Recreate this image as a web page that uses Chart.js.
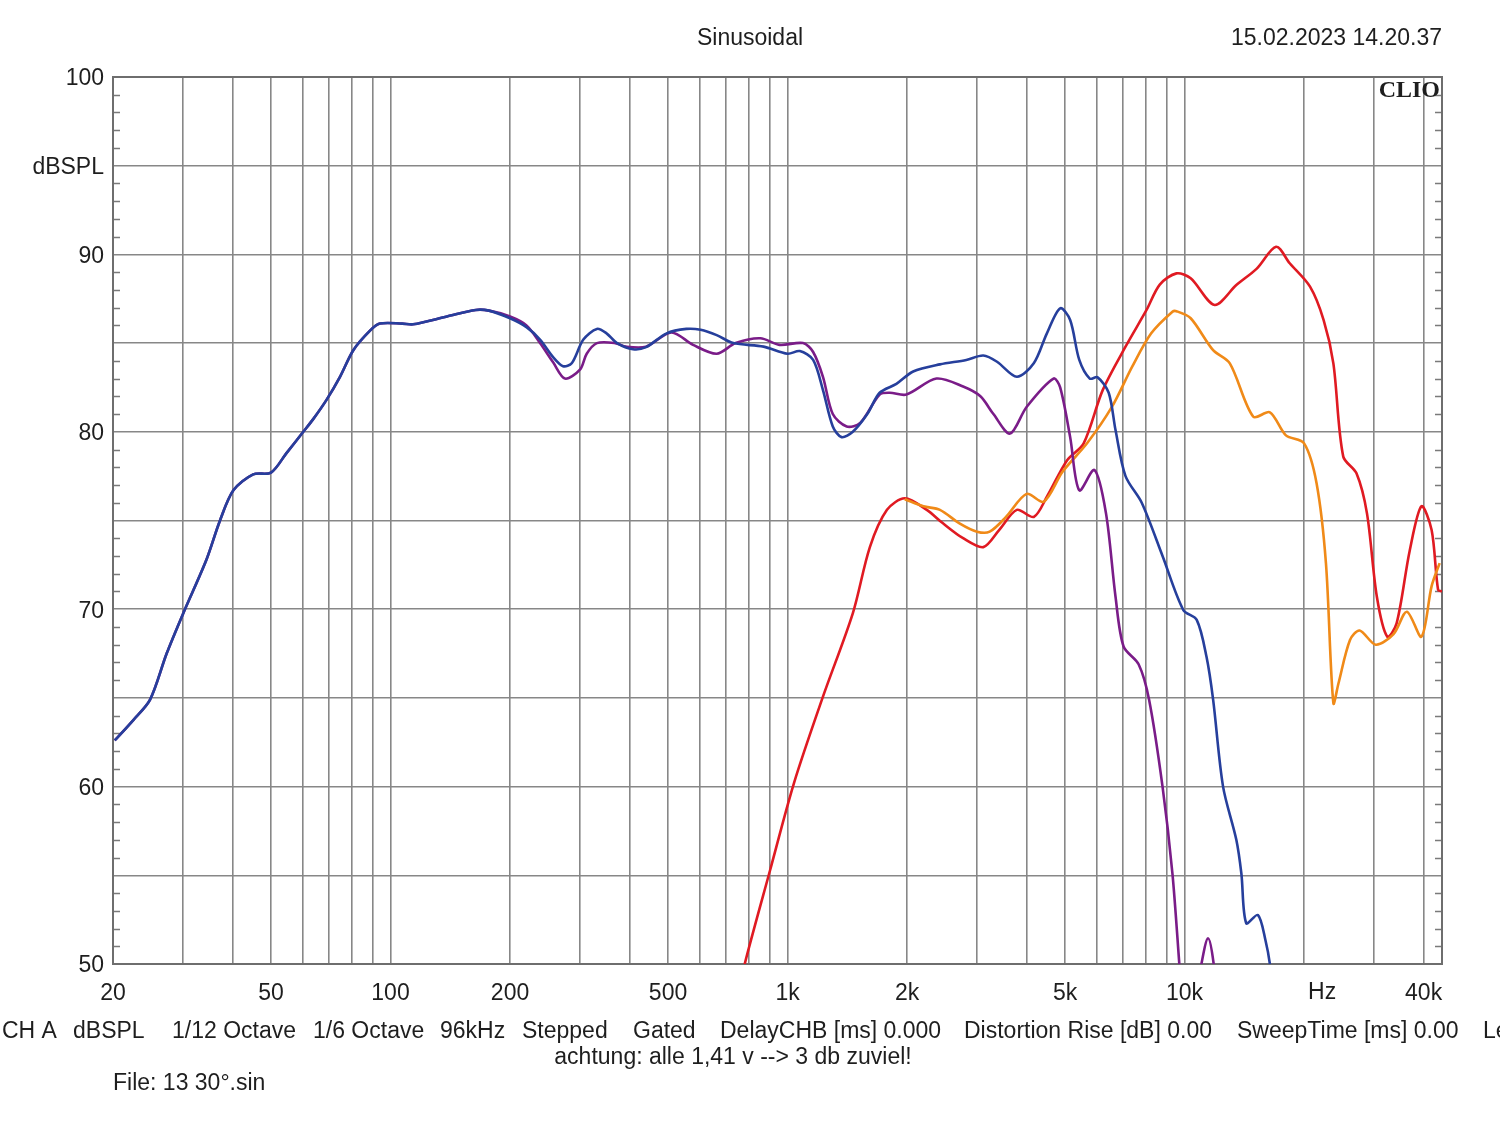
<!DOCTYPE html>
<html>
<head>
<meta charset="utf-8">
<title>Sinusoidal</title>
<script src="https://cdn.jsdelivr.net/npm/chart.js@4.4.1/dist/chart.umd.min.js"></script>
<style>
    html, body { margin: 0; padding: 0; background: #fff; }
    #wrap { width: 1500px; height: 1121px; position: relative; }
</style>
</head>
<body>
<div id="wrap"><canvas id="clio-chart"></canvas></div>
<script>
// values (Hz / dBSPL)
const blueFreq = [20.2, 22.5, 24.8, 27.3, 30.1, 34.4, 37.2, 40.2, 45.1, 50, 54.7, 60.3, 63.8, 69, 74.6, 80.6, 88.8, 94, 107, 114, 138.7, 164, 177, 200, 220, 238, 257, 272, 286, 306, 331, 350, 372, 408, 440, 496, 556, 604, 663, 730, 870, 1000, 1074, 1160, 1228, 1300, 1368, 1460, 1588, 1706, 1880, 2072, 2420, 2820, 3112, 3370, 3780, 4170, 4500, 4860, 5150, 5430, 5770, 6040, 6440, 6700, 7100, 7800, 8800, 9930, 10730, 11360, 11800, 12500, 13500, 13900, 14300, 15300, 16000, 16400, 17000];
const blueDb = [62.6, 63.75, 64.9, 67.5, 69.8, 72.8, 75.0, 76.7, 77.6, 77.7, 78.8, 80.0, 80.7, 81.8, 83.1, 84.6, 85.7, 86.1, 86.1, 86.06, 86.5, 86.87, 86.83, 86.4, 85.9, 85.2, 84.2, 83.7, 83.86, 85.2, 85.8, 85.55, 85.0, 84.65, 84.77, 85.55, 85.8, 85.75, 85.45, 85.0, 84.8, 84.4, 84.55, 84.05, 82.35, 80.3, 79.7, 80.0, 81.0, 82.2, 82.7, 83.4, 83.8, 84.05, 84.3, 83.95, 83.1, 83.86, 85.55, 86.96, 86.3, 84.05, 83.0, 83.07, 82.2, 80.1, 77.5, 76.0, 73.0, 69.95, 69.4, 67.3, 64.9, 60.0, 57.0, 55.1, 52.3, 52.76, 51.3, 50.0, 47.0];

const purpleFreq = [20.2, 22.5, 24.8, 27.3, 30.1, 34.4, 37.2, 40.2, 45.1, 50, 54.7, 60.3, 63.8, 69, 74.6, 80.6, 88.8, 94, 107, 114, 138.7, 164, 177, 200, 220, 238, 257, 275, 300, 312, 331, 368, 392, 440, 510, 578, 663, 740, 854, 954, 1094, 1160, 1228, 1300, 1409, 1524, 1706, 1810, 1992, 2372, 2768, 3060, 3300, 3634, 4000, 4676, 4860, 5150, 5430, 5930, 6340, 6700, 7020, 7660, 8140, 8800, 9320, 9700, 10000, 10800, 11460, 12000, 12500];
const purpleDb = [62.6, 63.75, 64.9, 67.5, 69.8, 72.8, 75.0, 76.7, 77.6, 77.7, 78.8, 80.0, 80.7, 81.8, 83.1, 84.6, 85.7, 86.1, 86.1, 86.06, 86.5, 86.87, 86.83, 86.5, 86.0, 85.0, 83.9, 83.0, 83.5, 84.4, 85.0, 85.0, 84.8, 84.8, 85.6, 84.9, 84.4, 85.0, 85.27, 84.9, 85.0, 84.5, 83.1, 81.0, 80.3, 80.5, 82.1, 82.2, 82.1, 83.0, 82.55, 82.0, 81.0, 79.9, 81.4, 83.0, 82.5, 79.7, 76.7, 77.85, 75.4, 70.7, 67.9, 66.9, 64.9, 60.0, 55.1, 50.0, 46.0, 49.0, 51.45, 49.0, 45.0];

const redFreq = [700, 780, 904, 1038, 1228, 1460, 1612, 1780, 1974, 2242, 2463, 2768, 3112, 3410, 3780, 4170, 4500, 5060, 5570, 6220, 7100, 8020, 8660, 9540, 10360, 11900, 13500, 15200, 17000, 18400, 20700, 22400, 23700, 25100, 27100, 28800, 30500, 32400, 34200, 36900, 39500, 41900, 43500, 44500];
const redDb = [45.5, 50.0, 55.3, 60.2, 65.07, 69.77, 73.5, 75.6, 76.25, 75.6, 74.84, 74.0, 73.5, 74.46, 75.6, 75.2, 76.34, 78.4, 79.35, 82.35, 84.8, 86.87, 88.3, 88.93, 88.65, 87.15, 88.27, 89.2, 90.43, 89.5, 88.18, 86.3, 83.86, 78.6, 77.66, 75.4, 70.7, 68.45, 69.2, 73.3, 75.8, 74.46, 71.1, 71.0];

const orangeFreq = [1974, 2200, 2420, 2710, 3000, 3230, 3550, 4000, 4420, 4928, 5680, 6560, 7380, 8240, 9320, 9540, 10360, 11800, 13000, 14900, 16400, 18000, 20000, 21500, 22700, 23700, 24400, 26100, 27600, 30300, 33600, 36300, 39500, 41900, 43900];
const orangeDb = [76.2, 75.8, 75.6, 74.84, 74.37, 74.37, 75.2, 76.5, 76.06, 77.75, 79.35, 81.4, 83.67, 85.55, 86.77, 86.8, 86.4, 84.6, 83.86, 80.85, 81.1, 79.8, 79.35, 77.1, 72.6, 64.7, 65.8, 68.26, 68.8, 68.0, 68.6, 69.86, 68.45, 71.3, 72.6];

// axes
const gridFreqs = [20, 30, 40, 50, 60, 70, 80, 90, 100, 200, 300, 400, 500, 600, 700, 800, 900, 1000, 2000, 3000, 4000, 5000, 6000, 7000, 8000, 9000, 10000, 20000, 30000, 40000];
const xLabelFreqs = [20, 50, 100, 200, 500, 1000, 2000, 5000, 10000, 40000];
const xLabelText = ["20", "50", "100", "200", "500", "1k", "2k", "5k", "10k", "40k"];
const yLabelDb = [100, 95, 90, 80, 70, 60, 50];
const yLabelText = ["100", "dBSPL", "90", "80", "70", "60", "50"];

(function () {
    const FONT = "'Liberation Sans', Arial, sans-serif";
    const INK = "#1e1e1e";
    const GRID = "#878787";

    function pts(fs, ds) {
        return fs.map((f, i) => ({ x: f, y: ds[i] }));
    }

    const footerItems = [
        ["CH A", 2], ["dBSPL", 73], ["1/12 Octave", 172], ["1/6 Octave", 313],
        ["96kHz", 440], ["Stepped", 522], ["Gated", 633], ["DelayCHB [ms] 0.000", 720],
        ["Distortion Rise [dB] 0.00", 964], ["SweepTime [ms] 0.00", 1237], ["Level", 1483],
    ];

    const decorPlugin = {
        id: "clioDecor",
        beforeDatasetsDraw(chart) {
            const { ctx, chartArea: a, scales } = chart;
            ctx.save();
            // 1 dB minor ticks on both edges
            ctx.strokeStyle = "#7a7a7a";
            ctx.lineWidth = 1.5;
            for (let d = 51; d < 100; d++) {
                if (d % 5 === 0) continue;
                const y = Math.round(scales.y.getPixelForValue(d)) + 0.5;
                ctx.beginPath();
                ctx.moveTo(a.left, y);
                ctx.lineTo(a.left + 7, y);
                ctx.moveTo(a.right - 7, y);
                ctx.lineTo(a.right, y);
                ctx.stroke();
            }
            // frame
            ctx.strokeStyle = "#6e6e6e";
            ctx.lineWidth = 2;
            ctx.strokeRect(a.left, a.top, a.right - a.left, a.bottom - a.top);
            ctx.restore();
        },
        afterDraw(chart) {
            const { ctx, chartArea: a, scales } = chart;
            ctx.save();
            ctx.fillStyle = INK;
            ctx.font = "23px " + FONT;
            ctx.textBaseline = "middle";

            ctx.textAlign = "center";
            ctx.fillText("Sinusoidal", 750, 39);
            ctx.textAlign = "right";
            ctx.fillText("15.02.2023 14.20.37", a.right, 39);

            // 20k position carries the unit instead of a number
            ctx.textAlign = "center";
            ctx.fillText("Hz", scales.x.getPixelForValue(20000) + 18, 993);

            ctx.textAlign = "left";
            footerItems.forEach(([t, x]) => ctx.fillText(t, x, 1032));
            ctx.textAlign = "center";
            ctx.fillText("achtung: alle 1,41 v --> 3 db zuviel!", 733, 1058);
            ctx.textAlign = "left";
            ctx.fillText("File: 13 30\u00b0.sin", a.left, 1084);

            ctx.font = "bold 24px 'Liberation Serif', 'Times New Roman', serif";
            ctx.textAlign = "right";
            ctx.fillText("CLIO", a.right - 2, 91);
            ctx.restore();
        },
    };

    const line = (label, fs, ds, color) => ({
        label,
        data: pts(fs, ds),
        borderColor: color,
        borderWidth: 2.6,
        pointRadius: 0,
        fill: false,
        tension: 0.3,
    });

    new Chart(document.getElementById("clio-chart"), {
        type: "line",
        data: {
            datasets: [
                line("blue", blueFreq, blueDb, "#263f9c"),
                line("purple", purpleFreq, purpleDb, "#7a1c88"),
                line("orange", orangeFreq, orangeDb, "#f08a18"),
                line("red", redFreq, redDb, "#e01a22"),
            ],
        },
        plugins: [decorPlugin],
        options: {
            responsive: true,
            maintainAspectRatio: false,
            animation: false,
            layout: { padding: { left: 0, right: 58, top: 77, bottom: 0 } },
            plugins: { legend: { display: false }, tooltip: { enabled: false } },
            scales: {
                x: {
                    type: "logarithmic",
                    min: 20,
                    max: 44500,
                    afterBuildTicks: (s) => { s.ticks = gridFreqs.map((v) => ({ value: v })); },
                    afterFit: (s) => { s.height = 157; },
                    grid: { color: GRID, lineWidth: 1.6, drawTicks: false },
                    border: { display: false },
                    ticks: {
                        autoSkip: false,
                        maxRotation: 0,
                        minRotation: 0,
                        padding: 16,
                        color: INK,
                        font: { family: FONT, size: 23 },
                        callback: (v) => {
                            const i = xLabelFreqs.indexOf(v);
                            return i >= 0 ? xLabelText[i] : "";
                        },
                    },
                },
                y: {
                    type: "linear",
                    min: 50,
                    max: 100,
                    afterFit: (s) => { s.width = 113; },
                    grid: { color: GRID, lineWidth: 1.6, drawTicks: false },
                    border: { display: false },
                    ticks: {
                        stepSize: 5,
                        padding: 9,
                        labelOffset: 2,
                        color: INK,
                        font: { family: FONT, size: 23 },
                        callback: (v) => {
                            const i = yLabelDb.indexOf(v);
                            return i >= 0 ? yLabelText[i] : "";
                        },
                    },
                },
            },
        },
    });
})();
</script>
</body>
</html>
